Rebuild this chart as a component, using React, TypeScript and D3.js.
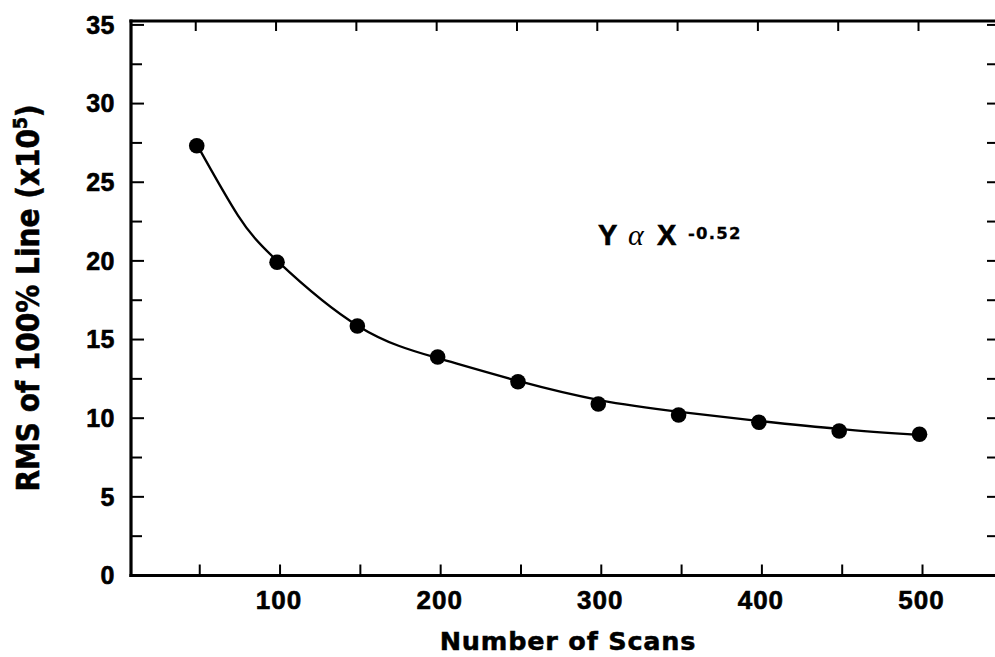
import * as d3 from 'd3';

// Number of scans (x) and RMS of the 100% line in units of 1e-5 (y)
const scans = [50, 100, 150, 200, 250, 300, 350, 400, 450, 500];
const rms = [27.32, 19.91, 15.86, 13.89, 12.32, 10.9, 10.2, 9.74, 9.19, 8.98];

// fitted curve
const fitScans = [50, 75, 100, 150, 200, 250, 300, 350, 400, 450, 500];
const fitRms = [27.3, 22.9, 19.95, 15.85, 13.8, 12.35, 11.15, 10.4, 9.82, 9.31, 8.93];

const xTickLabels = [100, 200, 300, 400, 500];
const yTickLabels = [0, 5, 10, 15, 20, 25, 30, 35];
const xTickMarks = [50, 100, 150, 200, 250, 300, 350, 400, 450, 500];
const yTickMarks = [0, 2.5, 5, 7.5, 10, 12.5, 15, 17.5, 20, 22.5, 25, 27.5, 30, 32.5, 35];

const fitLabel = { base: 'Y', sym: 'α', var: 'X', exp: '-0.52' };

const W = 995;
const H = 657;

export default function App() {
  const x = d3.scaleLinear().domain([7.2, 547]).range([131, 998]);
  const y = d3.scaleLinear().domain([0, 35.25]).range([575.5, 21]);

  const x0 = x(7.2);
  const x1 = x(547);
  const yBottom = y(0);
  const yTop = y(35.25);

  const pts: [number, number][] = scans.map((s, i) => [s, rms[i]]);
  const fit: [number, number][] = fitScans.map((s, i) => [s, fitRms[i]]);
  const line = d3
    .line<[number, number]>()
    .x((d) => x(d[0]) - 2)
    .y((d) => y(d[1]))
    .curve(d3.curveNatural);

  const sans = '"Liberation Sans", Arial, Helvetica, sans-serif';
  const wide = '"DejaVu Sans", "Liberation Sans", sans-serif';

  return (
    <svg
      width={W}
      height={H}
      viewBox={`0 0 ${W} ${H}`}
      style={{ position: 'absolute', left: 0, top: 0, background: '#fff' }}
    >
      <rect x={0} y={0} width={W} height={H} fill="#fff" />

      {/* frame */}
      <g stroke="#000" strokeWidth={3.2} fill="none" strokeLinecap="square">
        <line x1={x0} y1={yTop} x2={x1} y2={yTop} />
        <line x1={x0} y1={yTop} x2={x0} y2={yBottom} />
        <line x1={x0} y1={yBottom} x2={x1} y2={yBottom} />
        <line x1={x1} y1={yTop} x2={x1} y2={yBottom} />
      </g>

      {/* ticks */}
      <g stroke="#000" strokeWidth={2}>
        {yTickMarks.map((v) => (
          <g key={'y' + v}>
            {v > 0 && v < 35.1 && (
              <line x1={x0} x2={x0 + (v % 5 === 0 ? 13 : 11)} y1={y(v)} y2={y(v)} />
            )}
            {v > 0 && <line x1={x1} x2={x1 - 11} y1={y(v)} y2={y(v)} />}
          </g>
        ))}
        {xTickMarks.map((v) => (
          <g key={'x' + v}>
            <line x1={x(v)} x2={x(v)} y1={yBottom} y2={yBottom - 11} />
            <line x1={x(v) - 4} x2={x(v) - 4} y1={yTop} y2={yTop + 10} />
          </g>
        ))}
      </g>

      {/* tick labels */}
      <g fontFamily={sans} fontWeight="bold" fontSize={25} fill="#000" stroke="#000" strokeWidth={0.6}>
        {yTickLabels.map((v) => (
          <text key={v} x={115} y={y(v) + 8.8} textAnchor="end" letterSpacing={0.5}>
            {v}
          </text>
        ))}
      </g>
      <g fontFamily={sans} fontWeight="bold" fontSize={26} fill="#000" stroke="#000" strokeWidth={0.6}>
        {xTickLabels.map((v) => (
          <text key={v} x={x(v) - 1} y={609} textAnchor="middle" letterSpacing={1}>
            {v}
          </text>
        ))}
      </g>

      {/* axis titles */}
      <text
        x={568}
        y={650}
        textAnchor="middle"
        fontFamily={wide}
        fontWeight="bold"
        fontSize={25.5}
        letterSpacing={0.8}
        stroke="#000"
        strokeWidth={0.5}
      >
        Number of Scans
      </text>
      <text
        transform="translate(39,298) rotate(-90) scale(1,1.12)"
        textAnchor="middle"
        fontFamily={wide}
        fontWeight="bold"
        fontSize={28}
        stroke="#000"
        strokeWidth={0.5}
      >
        RMS of 100% Line (x10
        <tspan fontSize={17} dy={-11}>
          5
        </tspan>
        <tspan dy={11}>)</tspan>
      </text>

      {/* fitted curve and points */}
      <path d={line(fit) ?? ''} fill="none" stroke="#000" strokeWidth={2.3} />
      {pts.map((d) => (
        <circle key={d[0]} cx={x(d[0]) - 3} cy={y(d[1])} r={7.8} fill="#000" />
      ))}

      {/* power-law annotation */}
      <g fill="#000">
        <text x={598} y={245} fontFamily={sans} fontWeight="bold" fontSize={29} stroke="#000" strokeWidth={0.6}>
          {fitLabel.base}
        </text>
        <text x={628} y={245} fontFamily='"Liberation Serif", "DejaVu Serif", serif' fontStyle="italic" fontSize={30}>
          {fitLabel.sym}
        </text>
        <text x={657} y={245} fontFamily={sans} fontWeight="bold" fontSize={29} stroke="#000" strokeWidth={0.6}>
          {fitLabel.var}
        </text>
        <text x={688} y={238.5} fontFamily={wide} fontWeight="bold" fontSize={16.5} letterSpacing={1.2} stroke="#000" strokeWidth={0.3}>
          {fitLabel.exp}
        </text>
      </g>
    </svg>
  );
}
